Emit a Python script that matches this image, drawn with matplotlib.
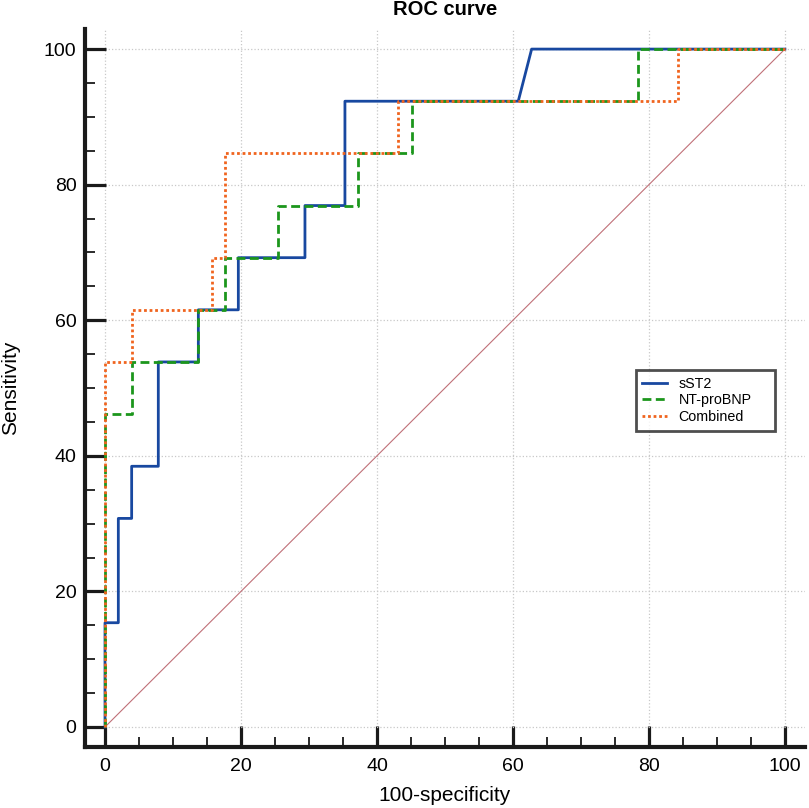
import matplotlib
matplotlib.use("Agg")
import matplotlib.pyplot as plt
from matplotlib import ticker

plt.rcParams['font.family'] = ['Liberation Sans', 'DejaVu Sans']

# ROC vertices (x = 100-specificity, y = sensitivity)
sst2_x = [0, 0, 1.96, 1.96, 3.92, 3.92, 7.84, 7.84, 13.73, 13.73, 19.61, 19.61,
          29.41, 29.41, 35.29, 35.29, 60.78, 62.75, 100]
sst2_y = [0, 15.38, 15.38, 30.77, 30.77, 38.46, 38.46, 53.85, 53.85, 61.54, 61.54, 69.23,
          69.23, 76.92, 76.92, 92.31, 92.31, 100, 100]

ntprobnp_x = [0, 0, 3.92, 3.92, 13.73, 13.73, 17.65, 17.65, 25.49, 25.49, 37.25, 37.25,
              45.10, 45.10, 78.43, 78.43, 100]
ntprobnp_y = [0, 46.15, 46.15, 53.85, 53.85, 61.54, 61.54, 69.23, 69.23, 76.92, 76.92, 84.62,
              84.62, 92.31, 92.31, 100, 100]

combined_x = [0, 0, 3.92, 3.92, 15.69, 15.69, 17.65, 17.65, 43.14, 43.14, 84.31, 84.31, 100]
combined_y = [0, 53.85, 53.85, 61.54, 61.54, 69.23, 69.23, 84.62, 84.62, 92.31, 92.31, 100, 100]

ref_x = [0, 100]
ref_y = [0, 100]

labels = ['sST2', 'NT-proBNP', 'Combined']

fig = plt.figure(figsize=(8.09, 8.08), dpi=100)
ax = fig.add_axes([0.105, 0.0755, 0.89, 0.8885])

ax.plot(ref_x, ref_y, color='#c07078', lw=0.8, zorder=2)
ax.plot(sst2_x, sst2_y, color='#1848a0', lw=2.0, label=labels[0], zorder=3)
ax.plot(ntprobnp_x, ntprobnp_y, color='#1c961c', lw=2.0, ls=(0, (3.2, 1.6)),
        label=labels[1], zorder=4)
ax.plot(combined_x, combined_y, color='#f0641e', lw=2.0, ls=(0, (1, 1)),
        label=labels[2], zorder=5)

ax.set_xlim(-2.95, 102.95)
ax.set_ylim(-2.95, 102.95)

for axis in (ax.xaxis, ax.yaxis):
    axis.set_major_locator(ticker.MultipleLocator(20))
    axis.set_minor_locator(ticker.MultipleLocator(5))

ax.grid(True, which='major', color='#c8c8c8', ls=':', lw=0.9, zorder=0)
ax.set_axisbelow(True)

ax.spines['top'].set_visible(False)
ax.spines['right'].set_visible(False)
for side in ('left', 'bottom'):
    ax.spines[side].set_linewidth(3)
    ax.spines[side].set_color('#1a1a1a')

ax.tick_params(which='major', direction='in', length=15, width=2.3, color='#1a1a1a',
               labelsize=14)
ax.tick_params(which='minor', direction='in', length=7.5, width=1.3, color='#1a1a1a')
ax.tick_params(axis='x', which='major', pad=8)
ax.tick_params(axis='y', which='major', pad=6)

ax.set_title('ROC curve', fontsize=14.5, fontweight='bold', pad=10)
ax.set_xlabel('100-specificity', fontsize=15, labelpad=8)
ax.set_ylabel('Sensitivity', fontsize=15, labelpad=17)

leg = ax.legend(loc='upper left', bbox_to_anchor=(0.765, 0.44, 0.193, 0.085),
                mode='expand', borderaxespad=0, fontsize=10.3, fancybox=False,
                handlelength=1.75, handletextpad=0.8, labelspacing=0.2, borderpad=0.45)
leg.get_frame().set_edgecolor('#222222')
leg.get_frame().set_linewidth(2)

fig.savefig('out.png', dpi=100)
